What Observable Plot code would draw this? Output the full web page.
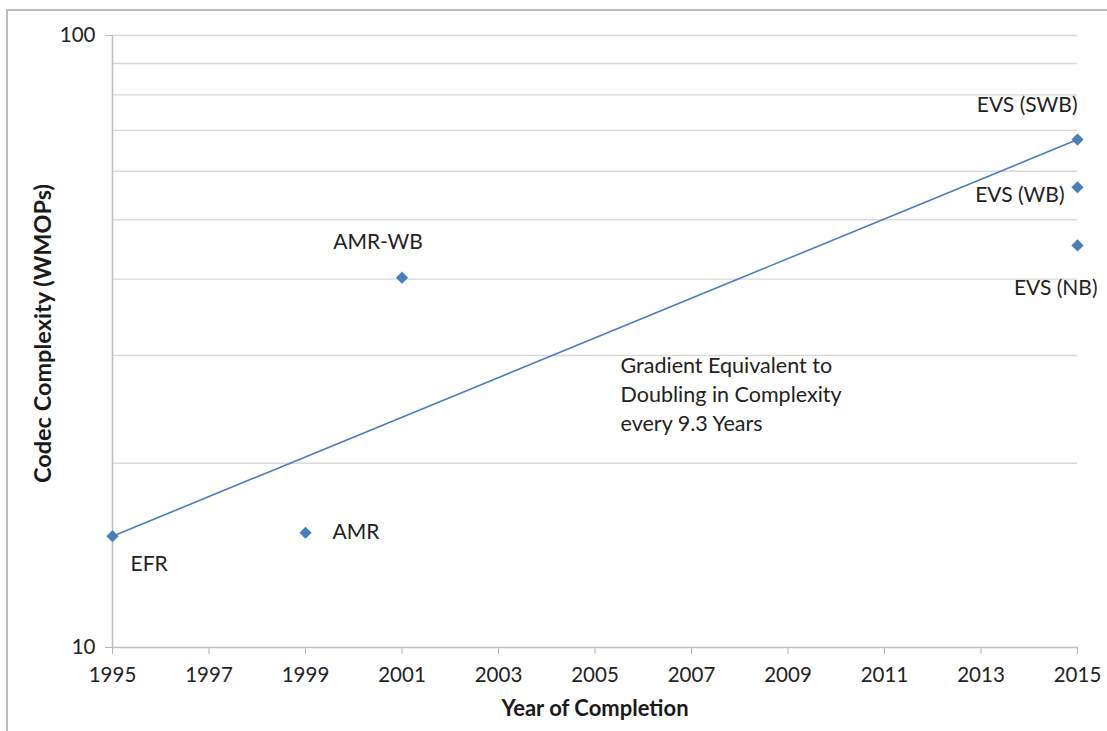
<!DOCTYPE html>
<html>
<head>
<meta charset="utf-8">
<script src="https://cdn.jsdelivr.net/npm/d3@7"></script>
<script src="https://cdn.jsdelivr.net/npm/@observablehq/plot@0.6"></script>
<style>
  html, body { margin: 0; padding: 0; background: #fff; }
  #wrap { position: relative; width: 1107px; height: 731px; overflow: hidden; font-family: Lato, "Open Sans", sans-serif; }
  #frameTop { position: absolute; left: 7px; top: 9px; width: 1100px; height: 2px; background: #bdbdbd; }
  #frameLeft { position: absolute; left: 6px; top: 9px; width: 2px; height: 722px; background: #bdbdbd; }
  #chart { position: absolute; left: 0; top: 0; }
</style>
</head>
<body>
<div id="wrap">
  <div id="chart"></div>
  <div id="frameTop"></div>
  <div id="frameLeft"></div>
</div>
<script>
// ---- data ----
const codecs = ["EFR", "AMR", "AMR-WB", "EVS (SWB)", "EVS (WB)", "EVS (NB)"];
const years = [1995, 1999, 2001, 2015, 2015, 2015];
const wmops = [15.2, 15.4, 40.2, 67.6, 56.5, 45.4];

const trendYears = [1995, 2015];
const trendValues = [15.2, 67.6];

const xTicks = [1995, 1997, 1999, 2001, 2003, 2005, 2007, 2009, 2011, 2013, 2015];
const yTicks = [10, 100];
const yGrid = [20, 30, 40, 50, 60, 70, 80, 90, 100];

const noteText = "Gradient Equivalent to\nDoubling in Complexity\nevery 9.3 Years";
const noteYear = [2005.53];
const noteValue = [26.1];

const xTitle = "Year of Completion";
const yTitle = "Codec Complexity (WMOPs)";

// ---- tables ----
const points = codecs.map((name, i) => ({name, year: years[i], value: wmops[i]}));
const trend = trendYears.map((y, i) => ({year: y, value: trendValues[i]}));
const note = [{year: noteYear[0], value: noteValue[0], text: noteText}];

const blue = "#4a7ebb";
const ink = "#222222";
const labelSize = 21;
const font = "Lato, 'Open Sans', sans-serif";

function label(name, opts) {
  return Plot.text(points.filter(d => d.name === name), {
    x: "year", y: "value", text: "name",
    fill: ink, fontSize: labelSize, fontFamily: font,
    lineAnchor: "middle", ...opts
  });
}

const chart = Plot.plot({
  width: 1107,
  height: 731,
  marginLeft: 112,
  marginRight: 30,
  marginTop: 35,
  marginBottom: 84,
  style: {fontFamily: font, background: "transparent"},
  x: {domain: [1995, 2015]},
  y: {type: "log", domain: [10, 100]},
  marks: [
    Plot.ruleY(yGrid, {stroke: "#d9d9d9", strokeWidth: 1.3}),
    Plot.ruleY([10], {stroke: "#bfbfbf", strokeWidth: 1.5}),
    Plot.ruleX([1995], {stroke: "#bfbfbf", strokeWidth: 1.5}),
    Plot.axisX(xTicks, {tickSize: 7, tickPadding: 13, tickFormat: d => String(d), stroke: "#b5b5b5", fill: ink, fontSize: 20.5, label: null}),
    Plot.axisY(yTicks, {tickSize: 7, tickPadding: 10, tickFormat: d => String(d), stroke: "#b5b5b5", fill: ink, fontSize: 20.5, label: null}),
    Plot.line(trend, {x: "year", y: "value", stroke: blue, strokeWidth: 1.6}),
    Plot.dot(points, {x: "year", y: "value", symbol: "diamond2", r: 5.5, fill: blue, stroke: null}),
    label("EFR", {textAnchor: "start", dx: 18, dy: 28}),
    label("AMR", {textAnchor: "start", dx: 27, dy: 0}),
    label("AMR-WB", {textAnchor: "middle", dx: -24, dy: -35}),
    label("EVS (SWB)", {textAnchor: "end", dx: 0, dy: -34}),
    label("EVS (WB)", {textAnchor: "end", dx: -13, dy: 8}),
    label("EVS (NB)", {textAnchor: "end", dx: 20, dy: 43}),
    Plot.text(note, {x: "year", y: "value", text: "text", textAnchor: "start", lineAnchor: "middle", lineHeight: 1.36, fill: ink, fontSize: 21.5, fontFamily: font}),
    Plot.text([xTitle], {frameAnchor: "bottom", textAnchor: "middle", dy: 61, lineAnchor: "middle", fontWeight: "bold", fontSize: 22, fill: "#1a1a1a", fontFamily: font}),
    Plot.text([yTitle], {frameAnchor: "left", textAnchor: "middle", dx: -69, dy: -8, rotate: -90, lineAnchor: "middle", fontWeight: "bold", fontSize: 23.5, fill: "#1a1a1a", fontFamily: font})
  ]
});
document.getElementById("chart").appendChild(chart);
</script>
</body>
</html>
